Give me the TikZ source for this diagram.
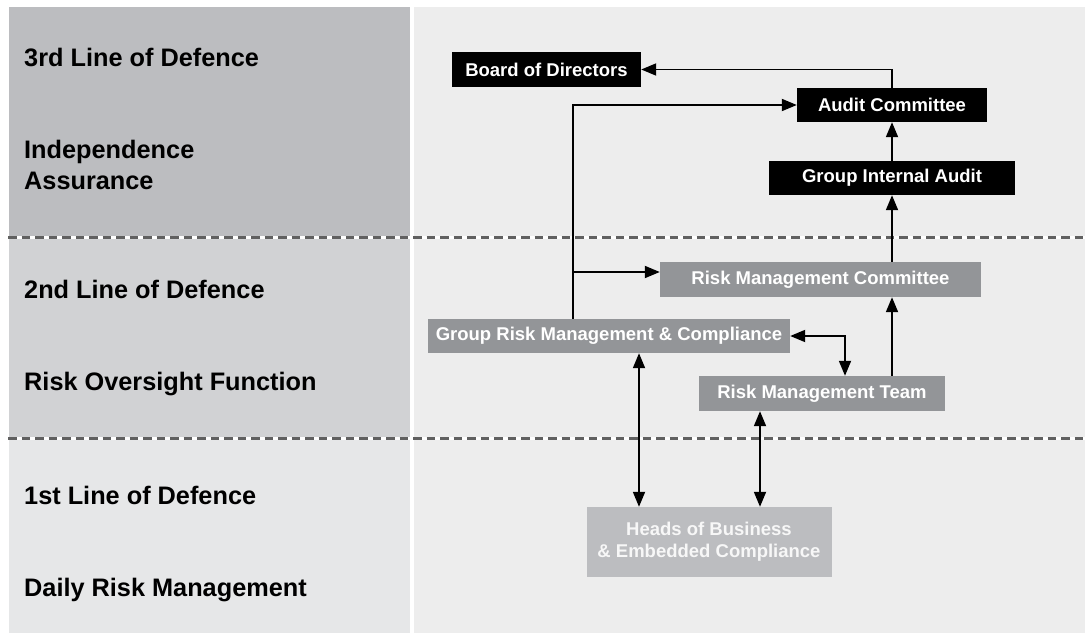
\documentclass[tikz,border=0pt]{standalone}
\usepackage{fontspec}
\setmainfont{Liberation Sans}
\usetikzlibrary{arrows.meta}
\definecolor{bandA}{HTML}{BCBDC0}
\definecolor{bandB}{HTML}{D1D2D4}
\definecolor{bandC}{HTML}{E6E7E8}
\definecolor{panel}{HTML}{EDEDED}
\definecolor{midbox}{HTML}{939598}
\definecolor{lightbox}{HTML}{BCBDC0}
\definecolor{dashcol}{HTML}{606060}
\tikzset{
  lbl/.style={anchor=base west, inner sep=0pt, font=\fontsize{25.3}{31}\selectfont\bfseries, text=black, align=left},
  box/.style={inner sep=0pt, font=\fontsize{18.5}{22}\selectfont\bfseries, text=white, align=center},
  blackbox/.style={box, fill=black},
  graybox/.style={box, fill=midbox},
  palebox/.style={box, fill=lightbox, text=white!97!black},
  conn/.style={line width=1.8pt, -{Triangle[length=15pt,width=12pt]}},
  conn2/.style={line width=1.8pt, {Triangle[length=15pt,width=12pt]}-{Triangle[length=15pt,width=12pt]}},
  sep/.style={line width=3pt, dashcol, dash pattern=on 8.5pt off 5pt}
}
\begin{document}
\begin{tikzpicture}[x=1pt,y=-1pt]
\useasboundingbox (0,0) rectangle (1085,634);
\fill[white] (0,0) rectangle (1085,634);
% panels
\fill[bandA] (9,7) rectangle (410,237);
\fill[bandB] (9,237) rectangle (410,438);
\fill[bandC] (9,438) rectangle (410,633);
\fill[panel] (414,7) rectangle (1085,633);
% separators
\draw[line width=3pt, white] (8,237) -- (1085,237);
\draw[sep] (8,237) -- (1085,237);
\draw[line width=3pt, white] (8,438) -- (1085,438);
\draw[sep] (8,438) -- (1085,438);
% left labels
\node[lbl] (l3) at (24,66.5) {3rd Line of Defence};
\node[lbl] (l3b) at (24,189) {Independence\\Assurance};
\node[lbl] (l2) at (24,298) {2nd Line of Defence};
\node[lbl] (l2b) at (24,390) {Risk Oversight Function};
\node[lbl] (l1) at (24,504) {1st Line of Defence};
\node[lbl] (l1b) at (24,596) {Daily Risk Management};
% boxes
\node[blackbox, minimum width=189pt, minimum height=35pt] (bod) at (546.5,69.5) {Board of Directors};
\node[blackbox, minimum width=190pt, minimum height=34pt] (ac) at (892,105) {Audit Committee};
\node[blackbox, minimum width=246pt, minimum height=34pt] (gia) at (892,178) {Group Internal Audit};
\node[graybox, minimum width=321pt, minimum height=35pt] (rmc) at (820.5,279.5) {Risk Management Committee};
\node[graybox, minimum width=362pt, minimum height=34pt] (grmc) at (609,336) {Group Risk Management \& Compliance};
\node[graybox, minimum width=246pt, minimum height=35pt] (rmt) at (822,393.5) {Risk Management Team};
\node[palebox, minimum width=245pt, minimum height=70pt] (hob) at (709,542) {Heads of Business\\\& Embedded Compliance};
% connectors
\draw[conn] (ac.north) |- (bod.east);
\draw[conn] ([xshift=-36pt]grmc.north) |- (ac.west);
\coordinate (j2) at ([xshift=-36pt]grmc.north |- 0,272);
\draw[conn] (j2) -- (j2 -| rmc.west);
\draw[conn] (gia.north) -- (ac.south);
\draw[conn] (gia.south |- rmc.north) -- (gia.south);
\draw[conn] (gia.south |- rmt.north) -- (gia.south |- rmc.south);
\draw[conn2] (grmc.east) -| ([xshift=23pt]rmt.north);
\draw[conn2] ([xshift=30pt]grmc.south) -- ([xshift=30pt]grmc.south |- hob.north);
\draw[conn2] ([xshift=-62pt]rmt.south) -- ([xshift=-62pt]rmt.south |- hob.north);
\end{tikzpicture}
\end{document}
